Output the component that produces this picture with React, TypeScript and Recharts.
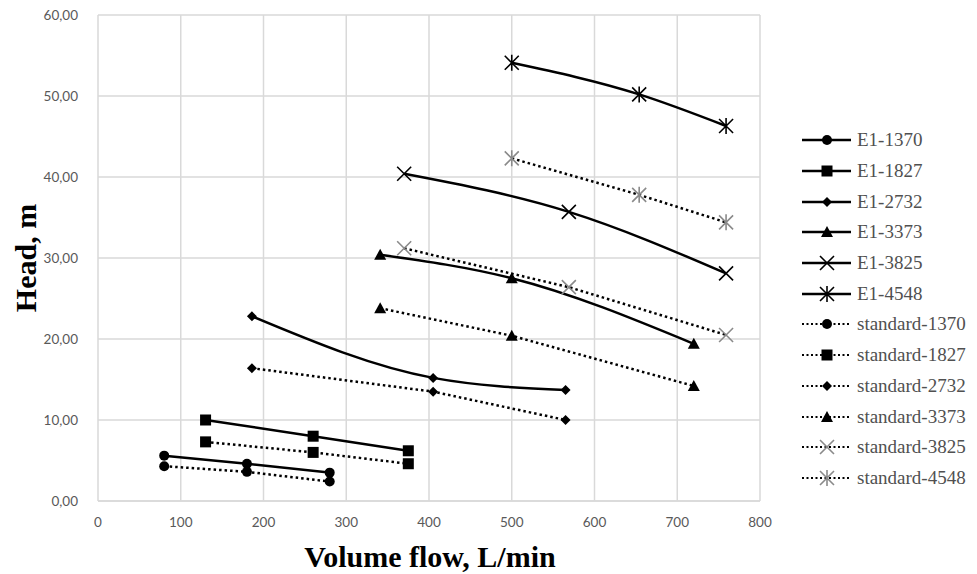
import { CartesianGrid, Line, LineChart, XAxis, YAxis } from 'recharts'

const NAMES = ['1370', '1827', '2732', '3373', '3825', '4548']
const SHAPES = ['circle', 'square', 'diamond', 'triangle', 'cross', 'star']

// volume flow, L/min
const flow1370 = [80, 180, 280]
const flow1827 = [130, 260, 375]
const flow2732 = [186, 405, 565]
const flow3373 = [341, 500, 720]
const flow3825 = [370, 569, 759]
const flow4548 = [500, 654, 759]

// head, m (measured E1)
const e1_1370 = [5.6, 4.6, 3.5]
const e1_1827 = [10.0, 8.0, 6.2]
const e1_2732 = [22.8, 15.2, 13.7]
const e1_3373 = [30.4, 27.5, 19.4]
const e1_3825 = [40.4, 35.7, 28.1]
const e1_4548 = [54.1, 50.2, 46.3]

// head, m (standard)
const std_1370 = [4.3, 3.6, 2.4]
const std_1827 = [7.3, 6.0, 4.6]
const std_2732 = [16.4, 13.5, 10.0]
const std_3373 = [23.8, 20.4, 14.2]
const std_3825 = [31.2, 26.4, 20.5]
const std_4548 = [42.3, 37.8, 34.4]

const xTicks = [0, 100, 200, 300, 400, 500, 600, 700, 800]
const yTicks = [0, 10, 20, 30, 40, 50, 60]

const flows = [flow1370, flow1827, flow2732, flow3373, flow3825, flow4548]
const e1Heads = [e1_1370, e1_1827, e1_2732, e1_3373, e1_3825, e1_4548]
const stdHeads = [std_1370, std_1827, std_2732, std_3373, std_3825, std_4548]

const zip = (xs: number[], ys: number[]) => xs.map((x, i) => ({ flow: x, head: ys[i] }))

const series = [
  ...NAMES.map((n, i) => ({
    name: `E1-${n}`,
    data: zip(flows[i], e1Heads[i]),
    shape: SHAPES[i],
    dashed: false,
    color: '#000',
  })),
  ...NAMES.map((n, i) => ({
    name: `standard-${n}`,
    data: zip(flows[i], stdHeads[i]),
    shape: SHAPES[i],
    dashed: true,
    color: i >= 4 ? '#8a8a8a' : '#000',
  })),
]

function Marker({ cx, cy, shape, color }: { cx: number; cy: number; shape: string; color: string }) {
  switch (shape) {
    case 'circle':
      return <circle cx={cx} cy={cy} r={5} fill={color} />
    case 'square':
      return <rect x={cx - 5.5} y={cy - 5.5} width={11} height={11} fill={color} />
    case 'diamond':
      return <path d={`M${cx},${cy - 5}L${cx + 5},${cy}L${cx},${cy + 5}L${cx - 5},${cy}Z`} fill={color} />
    case 'triangle':
      return <path d={`M${cx},${cy - 6}L${cx + 6},${cy + 5}L${cx - 6},${cy + 5}Z`} fill={color} />
    case 'cross':
      return (
        <path
          d={`M${cx - 7},${cy - 7}L${cx + 7},${cy + 7}M${cx - 7},${cy + 7}L${cx + 7},${cy - 7}`}
          stroke={color}
          strokeWidth={1.6}
          fill="none"
        />
      )
    default:
      return (
        <path
          d={`M${cx - 7},${cy - 7}L${cx + 7},${cy + 7}M${cx - 7},${cy + 7}L${cx + 7},${cy - 7}M${cx},${cy - 8}L${cx},${cy + 8}`}
          stroke={color}
          strokeWidth={1.6}
          fill="none"
        />
      )
  }
}

const renderDot = (shape: string, color: string) => (props: any) => (
  <Marker key={`${props.index}-${props.cx}`} cx={props.cx} cy={props.cy} shape={shape} color={color} />
)

function LegendBox() {
  return (
    <div
      style={{
        position: 'absolute',
        left: 801,
        top: 125,
        fontFamily: '"Liberation Serif", serif',
        fontSize: 19,
        color: '#505050',
      }}
    >
      {series.map((s) => (
        <div key={s.name} style={{ display: 'flex', alignItems: 'center', height: 30.7 }}>
          <svg width={52} height={20}>
            <line
              x1={1}
              x2={50}
              y1={10}
              y2={10}
              stroke="#000"
              strokeWidth={s.dashed ? 2 : 2.5}
              strokeDasharray={s.dashed ? '2 2.5' : undefined}
            />
            <Marker cx={26} cy={10} shape={s.shape} color={s.color} />
          </svg>
          <span style={{ marginLeft: 4 }}>{s.name}</span>
        </div>
      ))}
    </div>
  )
}

const fmt = (v: number) => v.toFixed(2).replace('.', ',')

const titleFont = {
  fill: '#000',
  fontSize: 30,
  fontWeight: 'bold',
  fontFamily: '"Liberation Serif", serif',
}

export default function App() {
  return (
    <div style={{ position: 'absolute', left: 0, top: 0, width: 977, height: 574, background: '#fff' }}>
      <LineChart width={977} height={574} margin={{ top: 15, right: 217, bottom: 0, left: 0 }}>
        <CartesianGrid stroke="#d9d9d9" strokeWidth={1.5} />
        <XAxis
          type="number"
          dataKey="flow"
          domain={[0, 800]}
          ticks={xTicks}
          axisLine={{ stroke: '#d9d9d9', strokeWidth: 1.5 }}
          tickLine={false}
          tick={{ fill: '#595959', fontSize: 13.5, fontFamily: 'Lato, sans-serif' }}
          tickMargin={10}
          height={73}
        />
        <YAxis
          type="number"
          domain={[0, 60]}
          ticks={yTicks}
          tickFormatter={fmt}
          axisLine={false}
          tickLine={false}
          width={98}
          tick={{ fill: '#595959', fontSize: 13.5, fontFamily: 'Lato, sans-serif' }}
          tickMargin={14}
        />
        <text x={430} y={567} textAnchor="middle" {...titleFont}>
          Volume flow, L/min
        </text>
        <text
          x={25}
          y={258}
          transform="rotate(-90 25 258)"
          textAnchor="middle"
          dominantBaseline="central"
          {...titleFont}
        >
          Head, m
        </text>
        {series.map((s) => (
          <Line
            key={s.name}
            name={s.name}
            data={s.data}
            dataKey="head"
            type={s.dashed ? 'linear' : 'monotone'}
            stroke="#000"
            strokeWidth={2.5}
            strokeDasharray={s.dashed ? '2.5 3' : undefined}
            dot={renderDot(s.shape, s.color)}
            activeDot={false}
            isAnimationActive={false}
          />
        ))}
      </LineChart>
      <LegendBox />
    </div>
  )
}
